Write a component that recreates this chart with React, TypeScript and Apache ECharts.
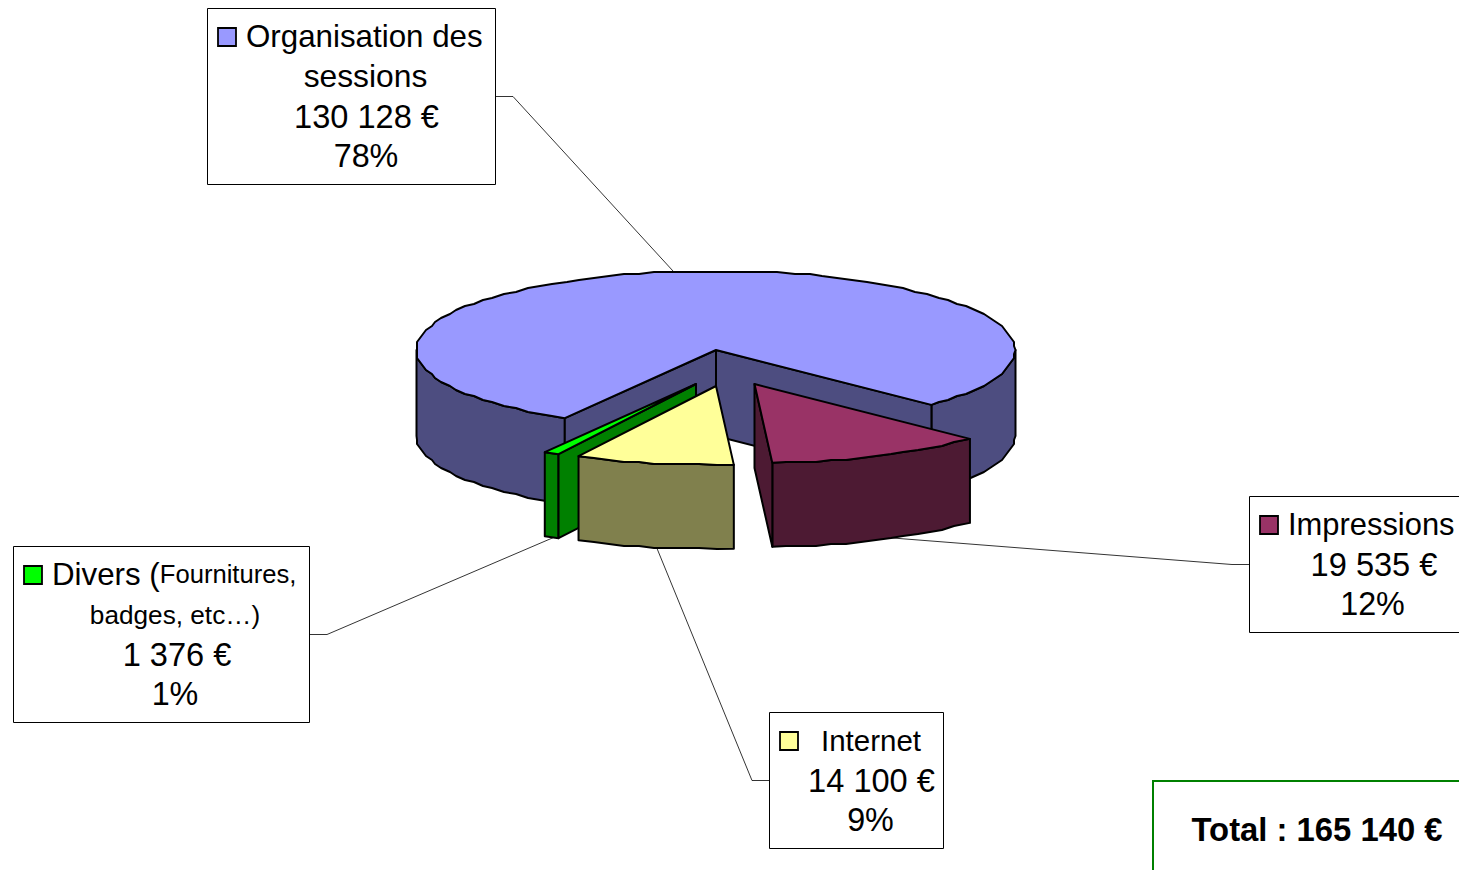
import React, { useEffect, useRef } from "react";
import * as echarts from "echarts";

const categories = ["Impressions", "Internet", "Divers", "Organisation des sessions"];
const values = [19535, 14100, 1376, 130128];
const percentLabels = ["12%", "9%", "1%", "78%"];
const amountLabels = ["19 535 €", "14 100 €", "1 376 €", "130 128 €"];
const topColors = ["#993366", "#FFFF99", "#00FF00", "#9999FF"];
const sideColors = ["#4D1A33", "#80804D", "#008000", "#4D4D80"];
const totalLabel = "Total : 165 140 €";

// layout
const START = 44;
const RX = 299.5;
const RY = 79;
const APEX = [
  [754.5, 384],
  [716, 386],
  [696, 384],
  [716, 350],
];
const DEPTH = [84, 84, 84, 86];
const DRAW_ORDER = [3, 2, 1, 0];
const FONT = '"Liberation Sans", Arial, sans-serif';

const rad = (d: number) => (d * Math.PI) / 180;

function arcPoints(ax: number, ay: number, t0: number, t1: number, dy = 0) {
  const pts: number[][] = [];
  const on = (t: number) => [ax + RX * Math.cos(rad(t)), ay + RY * Math.sin(rad(t))];
  const first = on(t0);
  pts.push([first[0], first[1] + dy]);
  const step = 3;
  for (let t = Math.ceil(t0 / step + 0.6) * step; t < t1 - step * 0.6; t += step) {
    const p = on(t);
    const sx = Math.max(ax - RX, Math.min(ax + RX, Math.round(p[0] / 3) * 3));
    const sy = Math.max(ay - RY, Math.min(ay + RY, Math.round(p[1] / 2) * 2));
    pts.push([sx, sy + dy]);
  }
  const last = on(t1);
  pts.push([last[0], last[1] + dy]);
  return pts;
}

function sliceAngles() {
  const total = values.reduce((a, b) => a + b, 0);
  let cur = START;
  return values.map((v) => {
    const a = cur;
    cur += (v / total) * 360;
    return [a, cur];
  });
}

const angles = sliceAngles();

function renderSlice(params: any) {
  const i = DRAW_ORDER[params.dataIndex];
  const [t0, t1] = angles[i];
  const [ax, ay] = APEX[i];
  const d = DEPTH[i];
  const top = topColors[i];
  const side = sideColors[i];
  const style = (fill: string) => ({ fill, stroke: "#000", lineWidth: 2, lineJoin: "round" });
  const children: any[] = [];
  const pt = (t: number) => [ax + RX * Math.cos(rad(t)), ay + RY * Math.sin(rad(t))];

  // radial walls facing the viewer
  const wall = (t: number) => {
    const p = pt(t);
    children.push({
      type: "polygon",
      shape: { points: [[ax, ay], p, [p[0], p[1] + d], [ax, ay + d]] },
      style: style(side),
    });
  };
  // outer walls: only the front half of the ellipse is visible
  const outer: number[][] = [];
  for (const k of [0, 360]) {
    const a = Math.max(t0, k);
    const b = Math.min(t1, k + 180);
    if (b > a) outer.push([a, b]);
  }
  for (const [a, b] of outer) {
    const up = arcPoints(ax, ay, a, b);
    const down = arcPoints(ax, ay, a, b, d).reverse();
    children.push({ type: "polygon", shape: { points: [...up, ...down] }, style: style(side) });
  }
  const norm = (t: number) => ((t % 360) + 360) % 360;
  if (Math.sin(rad(norm(t0) - 90)) > 0) wall(t0);
  if (Math.sin(rad(norm(t1) + 90)) > 0) wall(t1);
  // top face
  children.push({
    type: "polygon",
    shape: { points: [[ax, ay], ...arcPoints(ax, ay, t0, t1)] },
    style: style(top),
  });
  return { type: "group", children };
}

const WORD_SIZE = 31.3;
const AMOUNT_SIZE = 32.6;
const PCT_SIZE = 32.3;

function textEl(text: string, x: number, y: number, align = "center", extra: any = {}) {
  return {
    type: "text",
    z: 20,
    x,
    y,
    style: {
      text,
      fill: "#000",
      fontFamily: FONT,
      fontSize: WORD_SIZE,
      textAlign: align,
      textVerticalAlign: "middle",
      ...extra,
    },
  };
}

function box(x: number, y: number, w: number, h: number) {
  return {
    type: "rect",
    z: 15,
    shape: { x, y, width: w, height: h },
    style: { fill: "#fff", stroke: "#000", lineWidth: 1 },
  };
}

function swatch(i: number, x: number, y: number) {
  return {
    type: "rect",
    z: 20,
    shape: { x, y, width: 18, height: 18 },
    style: { fill: topColors[i], stroke: "#000", lineWidth: 1.8 },
  };
}

function leader(points: number[][]) {
  return {
    type: "polyline",
    z: 1,
    shape: { points },
    style: { fill: "none", stroke: "#000", lineWidth: 0.8 },
  };
}

const graphics: any[] = [
  leader([[496, 96.5], [513, 96.5], [673, 271]]),
  leader([[1250, 564.5], [1232, 564.5], [880, 537]]),
  leader([[770, 780.5], [752, 780.5], [656, 546]]),
  leader([[310, 634.5], [327, 634.5], [557, 536]]),

  box(207.5, 8.5, 288, 176),
  swatch(3, 218, 28),
  textEl("Organisation des", 246, 36, "left"),
  textEl("sessions", 365.5, 76, "center", { fontSize: 31.8 }),
  textEl(amountLabels[3], 366.5, 116, "center", { fontSize: AMOUNT_SIZE }),
  textEl(percentLabels[3], 366, 156, "center", { fontSize: PCT_SIZE }),

  box(13.5, 546.5, 296, 176),
  swatch(2, 24, 566),
  {
    type: "text",
    z: 20,
    x: 52,
    y: 574,
    style: {
      text: "{a|Divers (}{b|Fournitures,}",
      fill: "#000",
      textAlign: "left",
      textVerticalAlign: "middle",
      rich: {
        a: { fontFamily: FONT, fontSize: WORD_SIZE, fill: "#000" },
        b: { fontFamily: FONT, fontSize: 25.6, fill: "#000" },
      },
    },
  },
  textEl("badges, etc…)", 175, 615, "center", { fontSize: 26.2 }),
  textEl(amountLabels[2], 177, 654, "center", { fontSize: AMOUNT_SIZE }),
  textEl(percentLabels[2], 175, 694, "center", { fontSize: PCT_SIZE }),

  box(1249.5, 496.5, 240, 136),
  swatch(0, 1260, 516),
  textEl(categories[0], 1288, 524, "left", { fontSize: 30.9 }),
  textEl(amountLabels[0], 1374, 564, "center", { fontSize: AMOUNT_SIZE }),
  textEl(percentLabels[0], 1372.5, 604, "center", { fontSize: PCT_SIZE }),

  box(769.5, 712.5, 174, 136),
  swatch(1, 780, 732),
  textEl(categories[1], 871, 740, "center", { fontSize: 29.5 }),
  textEl(amountLabels[1], 871.5, 780, "center", { fontSize: AMOUNT_SIZE }),
  textEl(percentLabels[1], 870.5, 820, "center", { fontSize: PCT_SIZE }),

  {
    type: "rect",
    z: 15,
    shape: { x: 1153, y: 781, width: 400, height: 200 },
    style: { fill: "#fff", stroke: "#008000", lineWidth: 2 },
  },
  textEl(totalLabel, 1317, 829, "center", { fontWeight: "bold", fontSize: 32.8 }),
];

export default function App() {
  const ref = useRef<HTMLDivElement>(null);
  useEffect(() => {
    document.body.style.margin = "0";
    document.body.style.overflow = "hidden";
    const chart = echarts.init(ref.current!, null, { renderer: "svg" });
    chart.setOption({
      animation: false,
      backgroundColor: "#fff",
      series: [
        {
          type: "custom",
          coordinateSystem: "none",
          z: 5,
          silent: true,
          data: DRAW_ORDER.map((i) => ({ name: categories[i], value: values[i] })),
          renderItem: renderSlice,
        },
      ],
      graphic: { elements: graphics },
    });
    return () => chart.dispose();
  }, []);
  return <div ref={ref} style={{ width: 1459, height: 870 }} />;
}
